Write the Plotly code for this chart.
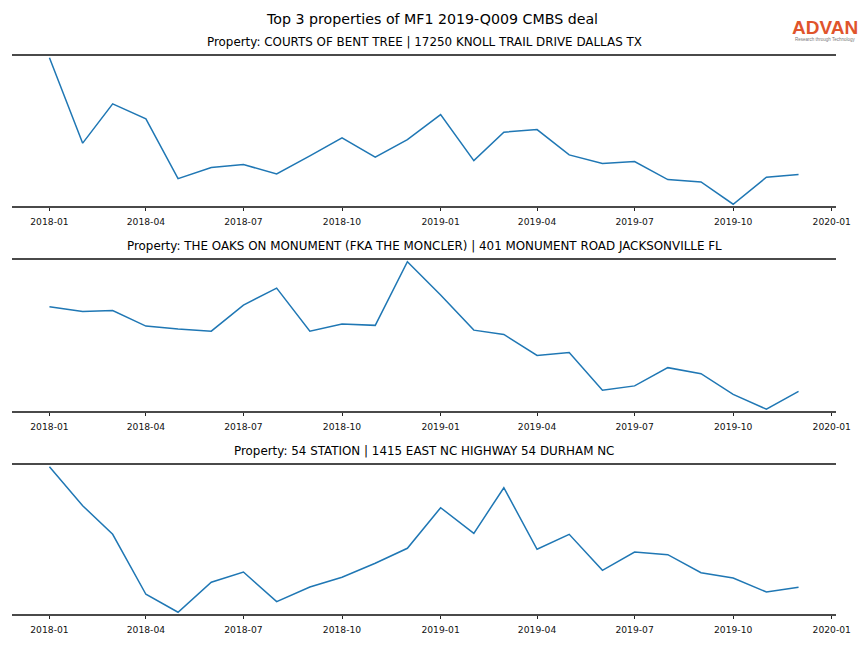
import pandas as pd
import plotly.graph_objects as go
from plotly.subplots import make_subplots

# ---- data ----
months = pd.date_range("2018-01-01", "2019-12-01", freq="MS").strftime("%Y-%m-%d").tolist()

titles = [
    "Property: COURTS OF BENT TREE | 17250 KNOLL TRAIL DRIVE DALLAS TX",
    "Property: THE OAKS ON MONUMENT (FKA THE MONCLER) | 401 MONUMENT ROAD JACKSONVILLE FL",
    "Property: 54 STATION | 1415 EAST NC HIGHWAY 54 DURHAM NC",
]

visits_bent_tree = [148.0, 62.7, 102.0, 87.0, 27.3, 38.3, 41.3, 32.0, 50.0, 68.0, 48.7, 66.3,
                    91.3, 45.3, 73.7, 76.3, 51.0, 42.3, 44.3, 26.3, 24.0, 1.7, 28.7, 31.3]
visits_oaks = [103.3, 98.7, 99.7, 84.3, 81.3, 79.3, 105.0, 121.7, 79.3, 86.3, 85.0, 147.7,
               115.0, 80.3, 76.0, 55.3, 58.3, 21.0, 25.3, 43.3, 37.3, 17.0, 2.3, 20.0]
visits_station = [147.3, 108.3, 79.7, 19.7, 1.7, 31.7, 42.0, 12.3, 27.0, 36.7, 50.7, 65.7,
                  106.3, 80.7, 126.3, 64.7, 79.7, 43.7, 62.0, 59.3, 41.3, 36.0, 22.0, 26.7]

series = [visits_bent_tree, visits_oaks, visits_station]

x_ticks = ["2018-01-01", "2018-04-01", "2018-07-01", "2018-10-01", "2019-01-01",
           "2019-04-01", "2019-07-01", "2019-10-01", "2020-01-01"]
x_tick_labels = ["2018-01", "2018-04", "2018-07", "2018-10", "2019-01",
                 "2019-04", "2019-07", "2019-10", "2020-01"]

main_title = "Top 3 properties of MF1 2019-Q009 CMBS deal"

# ---- figure ----
W, H = 864, 648
FONT = "DejaVu Sans"

fig = make_subplots(rows=3, cols=1)

# pixel layout of panels (top, bottom)
panels_px = [(56, 206), (260, 411), (465, 614)]
x_left, x_right = 12, 836

t0 = pd.Timestamp(months[0])
t1 = pd.Timestamp(months[-1])
pad = (t1 - t0) * 0.05
x_range = [(t0 - pad).strftime("%Y-%m-%d %H:%M"), (t1 + pad).strftime("%Y-%m-%d %H:%M")]

for i, vals in enumerate(series):
    r = i + 1
    fig.add_trace(
        go.Scatter(x=months, y=vals, mode="lines",
                   line=dict(color="#1f77b4", width=1.5), showlegend=False,
                   hoverinfo="x+y"),
        row=r, col=1,
    )
    top, bot = panels_px[i]
    lo, hi = min(vals), max(vals)
    span = hi - lo
    axis_suffix = "" if r == 1 else str(r)
    fig.layout["xaxis" + axis_suffix].update(
        domain=[x_left / W, x_right / W],
        range=x_range, automargin=False,
        tickvals=x_ticks, ticktext=x_tick_labels,
        ticks="outside", ticklen=3.5, tickwidth=0.8, tickcolor="#222",
        ticklabelstandoff=3,
        tickfont=dict(family=FONT, size=9.2, color="#111"),
        showline=True, mirror=True, linecolor="#4a4a4a", linewidth=1.6,
        showgrid=False, zeroline=False,
    )
    fig.layout["yaxis" + axis_suffix].update(
        domain=[1 - bot / H, 1 - top / H], automargin=False,
        range=[lo - span * 0.012, hi + span * 0.012],
        showticklabels=False, ticks="", showgrid=False, zeroline=False, showline=False,
    )
    fig.add_annotation(
        text=titles[i], xref="paper", yref="paper",
        x=(x_left + x_right) / 2 / W, y=1 - (top - 5) / H,
        xanchor="center", yanchor="bottom", showarrow=False,
        font=dict(family=FONT, size=11.9, color="#000"),
    )

fig.add_annotation(
    text=main_title, xref="paper", yref="paper",
    x=0.5, y=1 - 9 / H, xanchor="center", yanchor="top", showarrow=False,
    font=dict(family=FONT, size=14.2, color="#000"),
)

# logo
fig.add_annotation(
    text="<b>ADVAN</b>", xref="paper", yref="paper",
    x=824.5 / W, y=1 - 15 / H, xanchor="center", yanchor="top", showarrow=False,
    font=dict(family="Liberation Sans", size=19, color="#e0542c"),
)
fig.add_annotation(
    text="Research through Technology", xref="paper", yref="paper",
    x=824.5 / W, y=1 - 35.5 / H, xanchor="center", yanchor="top", showarrow=False,
    font=dict(family="Liberation Sans", size=4.5, color="#777"),
)

fig.update_layout(
    width=W, height=H, autosize=False,
    margin=dict(l=0, r=0, t=0, b=0),
    paper_bgcolor="white", plot_bgcolor="white",
    font=dict(family=FONT),
)

fig.write_html(
    "out.html",
    config={"responsive": False, "displayModeBar": False},
    post_script=(
        "document.documentElement.style.overflow='hidden';"
        "document.body.style.margin='0';document.body.style.overflow='hidden';"
    ),
)
